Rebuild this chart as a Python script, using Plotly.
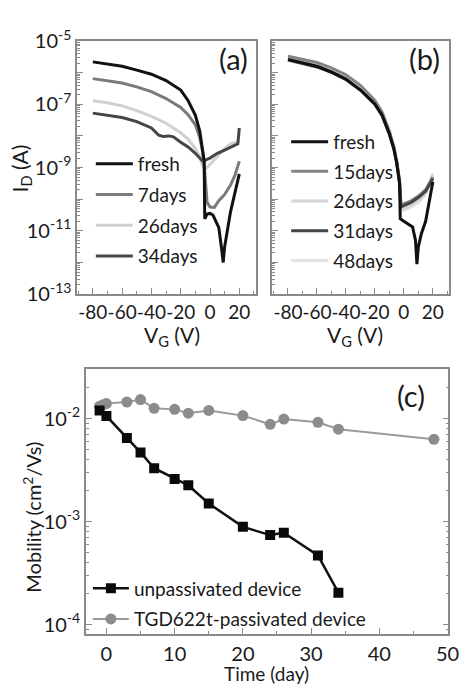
import numpy as np
import plotly.graph_objects as go

W, H = 470, 693

# ---------------- Panel (a): transfer curves, unpassivated ----------------
V_fresh_a = [-80, -70, -60, -50, -40, -30, -20, -15, -10, -7, -5, -4, -3.6, -2, 0, 2, 4, 6, 8, 9, 10, 12, 14, 16, 18, 20]
logI_fresh_a = [-5.66, -5.72, -5.80, -5.92, -6.05, -6.25, -6.55, -6.88, -7.35, -7.85, -8.40, -8.80, -10.62, -10.47, -10.45, -10.50, -10.70, -10.90, -11.60, -12.00, -11.50, -10.95, -10.40, -10.00, -9.60, -9.20]

V_7d_a = [-80, -70, -60, -50, -40, -30, -20, -15, -10, -7, -5, -4, -3, -2, 0, 3, 6, 10, 14, 17, 20]
logI_7d_a = [-6.19, -6.25, -6.33, -6.45, -6.60, -6.82, -7.10, -7.33, -7.65, -8.05, -8.50, -8.90, -9.60, -10.10, -10.25, -10.26, -10.05, -9.85, -9.55, -9.25, -8.80]

V_26d_a = [-80, -70, -60, -50, -40, -30, -20, -15, -10, -7, -5, -4, -2, 0, 3, 6, 10, 14, 18, 20]
logI_26d_a = [-6.89, -6.95, -7.05, -7.20, -7.38, -7.60, -7.90, -8.10, -8.40, -8.65, -8.95, -9.05, -9.00, -8.90, -8.75, -8.60, -8.40, -8.25, -8.20, -8.15]

V_34d_a = [-80, -70, -60, -50, -40, -35, -32, -28, -25, -20, -15, -10, -5, 0, 5, 10, 15, 19, 20]
logI_34d_a = [-7.28, -7.35, -7.42, -7.55, -7.75, -7.98, -8.02, -8.00, -8.03, -8.20, -8.35, -8.55, -8.80, -8.70, -8.55, -8.45, -8.35, -8.25, -7.75]

# ---------------- Panel (b): transfer curves, passivated ----------------
V_fresh_b = [-80, -70, -60, -50, -40, -30, -20, -15, -10, -7, -5, -3, -2.5, 0, 3, 6, 8, 9, 10, 12, 15, 18, 20]
logI_fresh_b = [-5.58, -5.68, -5.80, -5.98, -6.20, -6.55, -7.00, -7.35, -7.95, -8.40, -8.85, -9.50, -10.62, -10.70, -10.78, -10.88, -11.30, -12.05, -11.50, -11.10, -10.70, -10.00, -9.45]

V_15d_b = [-80, -70, -60, -50, -40, -30, -20, -15, -10, -7, -5, -3, -2, 0, 5, 10, 15, 20]
logI_15d_b = [-5.48, -5.57, -5.68, -5.85, -6.07, -6.40, -6.88, -7.25, -7.85, -8.35, -8.80, -9.40, -10.20, -10.15, -10.05, -9.90, -9.70, -9.30]

V_26d_b = [-80, -70, -60, -50, -40, -30, -20, -15, -10, -7, -5, -3, -2, 0, 5, 10, 15, 20]
logI_26d_b = [-5.53, -5.62, -5.73, -5.90, -6.12, -6.45, -6.92, -7.28, -7.85, -8.30, -8.75, -9.40, -10.30, -10.30, -10.20, -10.05, -9.80, -9.20]

V_31d_b = [-80, -70, -60, -50, -40, -30, -20, -15, -10, -7, -5, -3, -2, 0, 5, 10, 15, 20]
logI_31d_b = [-5.60, -5.70, -5.82, -5.99, -6.22, -6.55, -7.00, -7.35, -7.93, -8.38, -8.83, -9.45, -10.25, -10.20, -10.10, -9.95, -9.75, -9.35]

V_48d_b = [-80, -70, -60, -50, -40, -30, -20, -15, -10, -7, -5, -3, -2, 0, 5, 10, 15, 20]
logI_48d_b = [-5.55, -5.64, -5.75, -5.92, -6.14, -6.47, -6.95, -7.30, -7.88, -8.32, -8.78, -9.42, -10.35, -10.35, -10.25, -10.10, -9.85, -9.25]

# ---------------- Panel (c): mobility vs time ----------------
days_unpass = [-1, 0, 3, 5, 7, 10, 12, 15, 20, 24, 26, 31, 34]
mob_unpass = [0.0120, 0.0106, 0.0065, 0.0047, 0.0033, 0.0026, 0.00225, 0.0015, 0.00089, 0.00074, 0.00078, 0.00047, 0.000204]

days_pass = [-1, -0.5, 0, 3, 5, 7, 10, 12, 15, 20, 24, 26, 31, 34, 48]
mob_pass = [0.0132, 0.0136, 0.0140, 0.0145, 0.0153, 0.0126, 0.0123, 0.0113, 0.0120, 0.0107, 0.0088, 0.0099, 0.0092, 0.0079, 0.0063]

vg_ticks = [-80, -60, -40, -20, 0, 20]
vg_ticktext = ["-80", "-60", "-40", "-20", "0", "20"]
day_ticks = [0, 10, 20, 30, 40, 50]

FONT = "Lato"
AX = "#8a8a8a"
TXT = "#1a1a1a"


def px_x(p):
    return p / W


def px_y(p):
    return 1 - p / H


def to_amp(vals):
    return [10 ** v for v in vals]


fig = go.Figure()

a_series = [
    ("fresh", V_fresh_a, logI_fresh_a, "#111111", 1),
    ("7days", V_7d_a, logI_7d_a, "#7a7a7a", 2),
    ("26days", V_26d_a, logI_26d_a, "#d0d0d0", 3),
    ("34days", V_34d_a, logI_34d_a, "#454545", 4),
]
draw_a = [a_series[2], a_series[3], a_series[1], a_series[0]]
for name, vx, ly, col, rank in draw_a:
    fig.add_trace(go.Scatter(x=vx, y=to_amp(ly), mode="lines", name=name,
                             line=dict(color=col, width=3), xaxis="x", yaxis="y",
                             legend="legend", legendrank=rank, legendgroup="a" + name))

b_series = [
    ("fresh", V_fresh_b, logI_fresh_b, "#111111", 1),
    ("15days", V_15d_b, logI_15d_b, "#858585", 2),
    ("26days", V_26d_b, logI_26d_b, "#d6d6d6", 3),
    ("31days", V_31d_b, logI_31d_b, "#454545", 4),
    ("48days", V_48d_b, logI_48d_b, "#e3e3e3", 5),
]
draw_b = [b_series[4], b_series[2], b_series[1], b_series[3], b_series[0]]
for name, vx, ly, col, rank in draw_b:
    fig.add_trace(go.Scatter(x=vx, y=to_amp(ly), mode="lines", name=name,
                             line=dict(color=col, width=3), xaxis="x2", yaxis="y2",
                             legend="legend2", legendrank=rank, legendgroup="b" + name))

fig.add_trace(go.Scatter(x=days_pass, y=mob_pass, mode="lines+markers",
                         name="TGD622t-passivated device",
                         line=dict(color="#9a9a9a", width=2),
                         marker=dict(symbol="circle", size=11, color="#8c8c8c"),
                         xaxis="x3", yaxis="y3", legend="legend3", legendrank=2, legendgroup="cpass"))
fig.add_trace(go.Scatter(x=days_unpass, y=mob_unpass, mode="lines+markers",
                         name="unpassivated device",
                         line=dict(color="#111111", width=2.5),
                         marker=dict(symbol="square", size=10, color="#0a0a0a"),
                         xaxis="x3", yaxis="y3", legend="legend3", legendrank=1, legendgroup="cunpass"))

dec_a = list(range(-13, -4))
tickvals_a = [10.0 ** d for d in dec_a]
ticktext_a = [("10<sup>%d</sup>" % d) if d % 2 else "" for d in dec_a]
minor_a = [k * 10.0 ** d for d in range(-13, -5) for k in range(2, 10)]

dec_c = [-4, -3, -2]
tickvals_c = [10.0 ** d for d in dec_c]
ticktext_c = ["10<sup>%d</sup>" % d for d in dec_c]
minor_c = [k * 10.0 ** d for d in range(-5, -1) for k in range(2, 10)]

tickfont = dict(family=FONT, size=20, color=TXT)
vgtickfont = dict(family=FONT, size=19, color=TXT)

xa = dict(range=[-90.7, 31.3], tickvals=vg_ticks, ticktext=vg_ticktext, ticks="inside",
          ticklen=6, tickwidth=1.2, tickcolor=AX, showline=True, linecolor=AX, linewidth=1.5,
          mirror=True, showgrid=False, zeroline=False, tickfont=vgtickfont, tickangle=0,
          ticklabelstandoff=0,
          minor=dict(ticks="inside", ticklen=3, tickcolor=AX, dtick=10, tick0=0, showgrid=False))
ya = dict(type="log", range=[-13, -5], tickvals=tickvals_a, ticktext=ticktext_a,
          ticks="inside", ticklen=6, tickwidth=1.2, tickcolor=AX, showline=True, linecolor=AX,
          linewidth=1.5, mirror=True, showgrid=False, zeroline=False, tickfont=tickfont,
          minor=dict(ticks="inside", ticklen=3, tickcolor=AX, tickvals=minor_a, showgrid=False))

legfont = dict(family=FONT, size=19, color=TXT)

fig.update_layout(
    width=W, height=H, margin=dict(l=0, r=0, t=0, b=0),
    paper_bgcolor="white", plot_bgcolor="white",
    font=dict(family=FONT, color=TXT),
    xaxis=dict(domain=[px_x(79), px_x(262)], anchor="y", **xa),
    yaxis=dict(domain=[px_y(290), px_y(27)], anchor="x", **ya),
    xaxis2=dict(domain=[px_x(279), px_x(460)], anchor="y2", **xa),
    yaxis2=dict(domain=[px_y(290), px_y(27)], anchor="x2", **{**ya, "showticklabels": False}),
    xaxis3=dict(domain=[px_x(88), px_x(459)], anchor="y3", range=[-3, 50.1],
                tickvals=day_ticks, ticks="inside", ticklen=6, tickwidth=1.2,
                tickcolor=AX, showline=True, linecolor=AX, linewidth=1.5, mirror=True,
                showgrid=False, zeroline=False, tickfont=tickfont, tickangle=0,
                ticklabelstandoff=1,
                minor=dict(ticks="inside", ticklen=3, tickcolor=AX, dtick=5, tick0=0, showgrid=False)),
    yaxis3=dict(domain=[px_y(643), px_y(368)], anchor="x3", type="log", range=[-4.09, -1.52],
                tickvals=tickvals_c, ticktext=ticktext_c, ticks="inside", ticklen=6, tickwidth=1.2,
                tickcolor=AX, showline=True, linecolor=AX, linewidth=1.5, mirror="ticks",
                showgrid=False, zeroline=False, tickfont=tickfont,
                minor=dict(ticks="inside", ticklen=3, tickcolor=AX, tickvals=minor_c, showgrid=False)),
    legend=dict(x=px_x(93), y=px_y(135), xanchor="left", yanchor="top", bgcolor="rgba(0,0,0,0)",
                font=legfont, itemwidth=37, tracegroupgap=3),
    legend2=dict(x=px_x(293), y=px_y(112), xanchor="left", yanchor="top", bgcolor="rgba(0,0,0,0)",
                 font=legfont, itemwidth=37, tracegroupgap=2),
    legend3=dict(x=px_x(90), y=px_y(576), xanchor="left", yanchor="top", bgcolor="rgba(0,0,0,0)",
                 font=legfont, itemwidth=36, tracegroupgap=3),
    showlegend=True,
)

ann_font = dict(family=FONT, size=21, color=TXT)
annotations = [
    dict(text="(a)", x=px_x(239), y=px_y(45), font=dict(family=FONT, size=29, color=TXT)),
    dict(text="(b)", x=px_x(435), y=px_y(45), font=dict(family=FONT, size=29, color=TXT)),
    dict(text="(c)", x=px_x(421), y=px_y(395), font=dict(family=FONT, size=29, color=TXT)),
    dict(text="V<sub>G</sub> (V)", x=px_x(176), y=px_y(333), font=ann_font),
    dict(text="V<sub>G</sub> (V)", x=px_x(364), y=px_y(333), font=ann_font),
    dict(text="I<sub>D</sub> (A)", x=px_x(21), y=px_y(160), font=ann_font, textangle=-90),
    dict(text="Mobility (cm<sup>2</sup>/Vs)", x=px_x(33), y=px_y(522), font=dict(family=FONT, size=20, color=TXT), textangle=-90),
    dict(text="Time (day)", x=px_x(273), y=px_y(684), font=dict(family=FONT, size=19, color=TXT)),
]
for a in annotations:
    a.update(xref="paper", yref="paper", showarrow=False, xanchor="center", yanchor="middle")
fig.update_layout(annotations=annotations)

fig.write_html("out.html")
